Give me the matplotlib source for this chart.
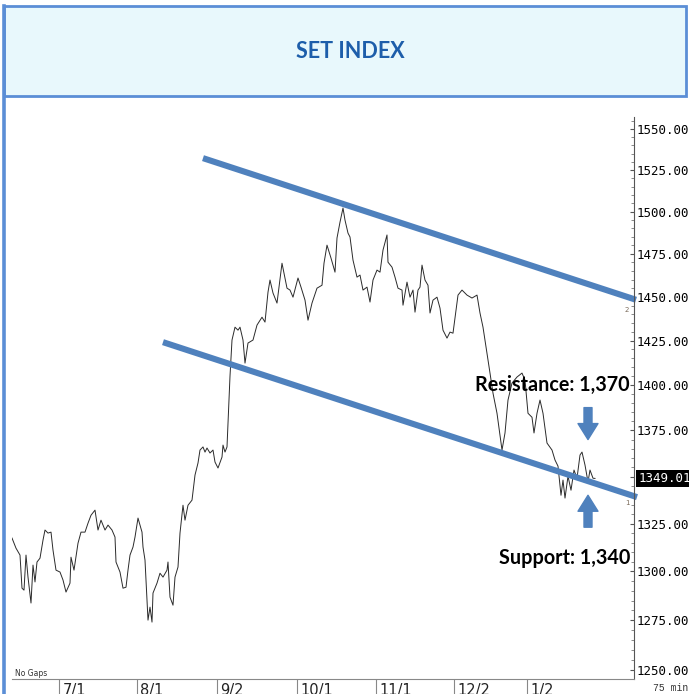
import numpy as np
import matplotlib.pyplot as plt
from matplotlib.patches import Rectangle
from matplotlib.lines import Line2D
from matplotlib.ticker import FixedLocator, FixedFormatter, NullFormatter

# SET index, 75 min bars (bar number from start, close)
bars = [0, 4, 8, 10, 12, 14, 16, 19, 21, 23, 25, 28, 31, 33, 36, 39, 41, 44, 48, 51,
        54, 58, 59, 62, 66, 69, 73, 76, 79, 83, 86, 89, 93, 96, 100, 103, 104, 108, 111, 114,
        116, 118, 121, 123, 126, 130, 131, 133, 135, 136, 138, 140, 141, 145, 148, 151, 155, 156, 158, 161,
        163, 166, 168, 171, 173, 176, 180, 183, 186, 188, 191, 193, 195, 198, 201, 203, 206, 210, 211, 213,
        215, 216, 218, 220, 223, 226, 228, 231, 233, 236, 241, 245, 250, 253, 256, 258, 261, 265, 270, 275,
        278, 281, 286, 289, 293, 296, 300, 305, 310, 312, 315, 319, 323, 325, 328, 331, 333, 336, 338, 341,
        345, 348, 351, 355, 358, 361, 365, 368, 371, 375, 376, 380, 383, 386, 390, 391, 395, 398, 401, 403,
        406, 408, 410, 413, 416, 418, 421, 425, 428, 431, 435, 438, 441, 446, 450, 455, 460, 465, 468, 471,
        475, 478, 481, 485, 490, 493, 496, 500, 505, 510, 513, 516, 520, 522, 525, 528, 531, 535, 540, 543,
        546, 549, 551, 553, 556, 559, 562, 565, 568, 570, 573, 576, 578, 581, 583]
closes = [1317.4, 1312.1, 1308.5, 1291.4, 1290.4, 1308.5, 1297.1, 1283.8, 1303.3, 1294.6,
          1304.9, 1306.9, 1316.3, 1321.6, 1320.0, 1320.5, 1311.1, 1300.7, 1299.7, 1295.6,
          1289.4, 1294.0, 1307.4, 1300.7, 1314.7, 1320.5, 1320.5, 1325.2, 1329.4, 1332.1,
          1321.6, 1326.8, 1321.6, 1324.2, 1321.6, 1317.9, 1304.9, 1299.7, 1291.4, 1291.9,
          1300.7, 1308.5, 1312.7, 1317.9, 1327.9, 1320.5, 1312.7, 1305.9, 1285.3, 1275.1,
          1281.7, 1274.1, 1288.9, 1294.0, 1299.1, 1297.1, 1300.7, 1304.9, 1286.8, 1282.7,
          1297.1, 1302.3, 1320.0, 1334.7, 1326.8, 1334.7, 1337.4, 1350.8, 1357.3, 1364.3,
          1366.0, 1363.2, 1365.4, 1362.7, 1364.3, 1357.8, 1354.6, 1360.5, 1367.0, 1363.2,
          1366.0, 1379.0, 1405.0, 1425.3, 1432.6, 1430.9, 1432.6, 1425.3, 1412.3, 1423.6,
          1425.3, 1433.8, 1438.3, 1435.5, 1452.7, 1459.7, 1452.2, 1446.4, 1469.5, 1455.0,
          1453.9, 1449.8, 1460.9, 1455.6, 1448.1, 1436.6, 1446.4, 1455.0, 1456.7, 1469.5,
          1480.1, 1472.5, 1464.3, 1484.3, 1493.7, 1502.1, 1494.9, 1487.2, 1484.9, 1471.3,
          1461.4, 1462.6, 1453.9, 1455.6, 1447.0, 1459.7, 1465.5, 1464.3, 1477.2, 1486.1,
          1470.1, 1467.2, 1461.4, 1455.0, 1453.9, 1445.2, 1458.5, 1449.8, 1453.9, 1441.2,
          1453.9, 1455.6, 1468.4, 1459.7, 1456.7, 1440.7, 1448.1, 1449.8, 1443.5, 1430.9,
          1426.4, 1429.8, 1429.2, 1451.0, 1453.9, 1451.0, 1449.3, 1451.0, 1440.7, 1432.6,
          1417.9, 1406.7, 1395.5, 1384.4, 1364.3, 1373.6, 1391.7, 1401.1, 1404.5, 1406.7,
          1402.8, 1384.4, 1382.2, 1373.6, 1384.4, 1391.7, 1384.4, 1368.1, 1364.3, 1358.9,
          1355.6, 1340.0, 1348.1, 1338.5, 1350.2, 1342.7, 1353.5, 1349.1, 1361.6, 1363.2,
          1356.2, 1347.1, 1353.5, 1349.1, 1349.01]

tick_bars = [47, 125, 205, 285, 364, 442, 515]
tick_labels = ['7/1', '8/1', '9/2', '10/1', '11/1', '12/2', '1/2']
price_ticks = list(range(1250, 1551, 25))
minor_ticks = list(range(1250, 1556, 5))

# trend channel (two points per line)
upper_bars = [191, 624]
upper_prices = [1532.2, 1448.3]
lower_bars = [151, 625]
lower_prices = [1424.1, 1339.0]

resistance = 1370
support = 1340
arrow_bar = 576
last_close = closes[-1]

blue = '#4F81BD'
frame_blue = '#5B8ED6'
label_font = ['Lato', 'DejaVu Sans']

W, H = 689, 694
fig = plt.figure(figsize=(W / 100, H / 100), dpi=100)
fig.patch.set_facecolor('white')

# title box
fig.add_artist(Rectangle((3.5 / W, 1 - 96 / H), 682.5 / W, 90 / H, transform=fig.transFigure,
                         facecolor='#E8F8FC', edgecolor=frame_blue, lw=2.0))
fig.add_artist(Line2D([4 / W, 4 / W], [0, 1 - 6 / H], transform=fig.transFigure,
                      color=frame_blue, lw=2.6))
fig.text(350 / W, 1 - 52 / H, 'SET INDEX', ha='center', va='center', fontsize=15.5,
         fontweight='bold', color='#1D5EAA', family=label_font)

ax = fig.add_axes([12 / W, 15 / H, 622 / W, 582 / H])
ax.plot(bars, closes, color='#2a2a2a', lw=0.7)
ax.plot(upper_bars, upper_prices, color=blue, lw=4.4, solid_capstyle='butt', clip_on=False)
ax.plot(lower_bars, lower_prices, color=blue, lw=4.4, solid_capstyle='butt', clip_on=False)

ax.set_yscale('log')
ax.set_ylim(1245.6, 1569.9)
ax.set_xlim(0, 622)

for s in ['left', 'top']:
    ax.spines[s].set_visible(False)
ax.spines['right'].set_color('#555555')
ax.spines['bottom'].set_color('#888888')
ax.spines['right'].set_bounds(1245.6, 1557.4)

ax.yaxis.tick_right()
ax.yaxis.set_major_locator(FixedLocator(price_ticks))
ax.yaxis.set_major_formatter(FixedFormatter(['' if p == 1350 else f'{p:.2f}' for p in price_ticks]))
ax.yaxis.set_minor_locator(FixedLocator(minor_ticks))
ax.yaxis.set_minor_formatter(NullFormatter())
ax.tick_params(axis='y', which='major', direction='in', length=3, width=0.8, color='#555555',
               labelsize=9, pad=2, labelfontfamily='DejaVu Sans Mono')
ax.tick_params(axis='y', which='minor', direction='in', length=2, width=0.6, color='#777777')

ax.set_xticks(tick_bars)
ax.set_xticklabels([])
ax.tick_params(axis='x', direction='out', length=12, width=0.8, color='#888888')
for b, lab in zip(tick_bars, tick_labels):
    ax.annotate(lab, xy=(b, 0), xycoords=('data', 'axes fraction'), xytext=(2.5, -3),
                textcoords='offset points', ha='left', va='top', fontsize=10.5, color='#222222',
                annotation_clip=False)

# last price tag
ax.annotate(f'{last_close:.2f}', xy=(1, last_close), xycoords=('axes fraction', 'data'),
            xytext=(3, 0), textcoords='offset points', ha='left', va='center', color='white',
            fontsize=9, family='DejaVu Sans Mono',
            bbox=dict(boxstyle='square,pad=0.15', fc='black', ec='none'))

# resistance / support arrows and labels
arrow = dict(arrowstyle='simple,head_width=1,head_length=0.8,tail_width=0.4',
             mutation_scale=14.4, color=blue, shrinkA=0, shrinkB=0)
ax.annotate('', xy=(arrow_bar, resistance), xytext=(0, 23), textcoords='offset points',
            arrowprops=arrow)
ax.annotate('', xy=(arrow_bar, support), xytext=(0, -23), textcoords='offset points',
            arrowprops=arrow)
ax.annotate(f'Resistance: {resistance:,}', xy=(arrow_bar, resistance), xytext=(42, 55),
            textcoords='offset pixels', ha='right', va='center', fontsize=14.2,
            fontweight='bold', family=label_font, color='black')
ax.annotate(f'Support: {support:,}', xy=(arrow_bar, support), xytext=(42, -63),
            textcoords='offset pixels', ha='right', va='center', fontsize=14.2,
            fontweight='bold', family=label_font, color='black')

ax.annotate('2', xy=(upper_bars[1], upper_prices[1]), xytext=(-9, -10), textcoords='offset pixels',
            ha='center', va='center', fontsize=5, color='#7a6a5a', annotation_clip=False)
ax.annotate('1', xy=(lower_bars[1], lower_prices[1]), xytext=(-10, -6), textcoords='offset pixels',
            ha='center', va='center', fontsize=5, color='#7a6a5a', annotation_clip=False)

fig.text(15 / W, 1 - 673 / H, 'No Gaps', fontsize=5.5, va='center', color='#333333')
fig.text(671 / W, 1 - 688 / H, '75 min', ha='center', va='center', fontsize=7,
         family='Liberation Mono', color='#333333')

fig.savefig('out.png', dpi=100)
